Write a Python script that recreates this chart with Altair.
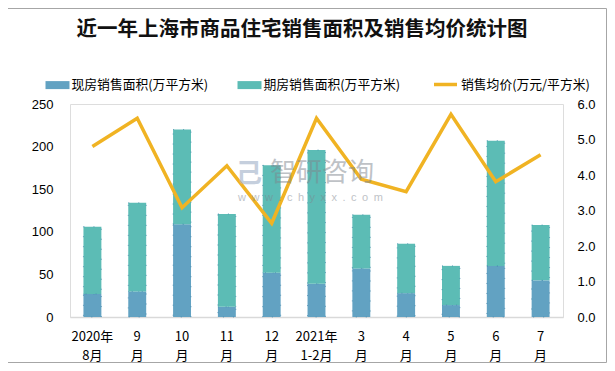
import altair as alt
import pandas as pd

months = ["2020年\n8月", "9\n月", "10\n月", "11\n月", "12\n月", "2021年\n1-2月",
          "3\n月", "4\n月", "5\n月", "6\n月", "7\n月"]
current = [27, 30, 109, 12, 52, 39, 57, 28, 14, 60, 43]
future = [79, 104, 111, 109, 126, 157, 63, 58, 46, 147, 65]
price = [4.80, 5.60, 3.08, 4.26, 2.64, 5.60, 3.88, 3.53, 5.71, 3.81, 4.57]

types = ["现房销售面积(万平方米)", "期房销售面积(万平方米)"]
line_name = "销售均价(万元/平方米)"
title_text = "近一年上海市商品住宅销售面积及销售均价统计图"

bar_colors = ["#62a2c2", "#5cbcb5"]
line_color = "#f0b323"

rows = []
for m, c, f in zip(months, current, future):
    rows.append({"month": m, "type": types[0], "value": c, "ord": 0})
    rows.append({"month": m, "type": types[1], "value": f, "ord": 1})
bar_df = pd.DataFrame(rows)
line_df = pd.DataFrame({"month": months, "price": price, "series": [line_name] * len(months)})

font = "Liberation Sans, Noto Sans CJK SC"
cjk = "Noto Sans CJK SC"

x_enc = alt.X(
    "month:N", sort=months,
    scale=alt.Scale(paddingInner=0.6, paddingOuter=0.3),
    axis=alt.Axis(title=None, labelAngle=0, labelExpr="split(datum.label, '\\n')",
                  ticks=False, domainColor="#d9d9d9", domainWidth=1.5,
                  labelFont=cjk, labelFontSize=13, labelColor="#000000",
                  labelPadding=13, labelLineHeight=19),
)

bars = alt.Chart(bar_df).mark_bar(
    stroke="#3f86ad", strokeWidth=1, strokeDash=[1, 9], strokeOpacity=0.7
).encode(
    x=x_enc,
    y=alt.Y("value:Q", stack="zero",
            scale=alt.Scale(domain=[0, 250], nice=False),
            axis=alt.Axis(title=None, values=[0, 50, 100, 150, 200, 250], grid=False,
                          domain=False, ticks=False, labelPadding=17,
                          labelFont=font, labelFontSize=13, labelColor="#000000")),
    color=alt.Color("type:N", scale=alt.Scale(domain=types, range=bar_colors),
                    legend=alt.Legend(title=None, orient="none", direction="horizontal",
                                      legendX=-20.5, legendY=-27, padding=0,
                                      symbolType="M-1.5,-0.5H1.5V0.5H-1.5Z",
                                      symbolSize=256, symbolStrokeWidth=0,
                                      symbolOpacity=1,
                                      labelFont=cjk, labelFontSize=12.8, labelColor="#000000",
                                      labelOffset=6, columnPadding=29)),
    order=alt.Order("ord:Q"),
)

line = alt.Chart(line_df).mark_line(strokeWidth=3.5).encode(
    x=x_enc,
    y=alt.Y("price:Q", scale=alt.Scale(domain=[0, 6], nice=False),
            axis=alt.Axis(title=None, orient="right", values=[0, 1, 2, 3, 4, 5, 6],
                          format=".1f", grid=False, domain=False, ticks=False,
                          labelPadding=14, labelFont=font, labelFontSize=13,
                          labelColor="#000000")),
    stroke=alt.Stroke("series:N", scale=alt.Scale(domain=[line_name], range=[line_color]),
                      legend=alt.Legend(title=None, orient="none", direction="horizontal",
                                        legendX=362, legendY=-33, padding=0,
                                        symbolType="stroke", symbolSize=529,
                                        symbolStrokeWidth=3.5,
                                        labelFont=cjk, labelFontSize=12.8,
                                        labelColor="#000000", labelOffset=2)),
)

deco_df = pd.DataFrame({"a": [0]})
border = alt.Chart(deco_df).mark_rect(
    fill="#ffffff", fillOpacity=0, stroke="#a6a6a6", strokeWidth=1
).encode(x=alt.value(-62.5), x2=alt.value(536.5), y=alt.value(-95.5), y2=alt.value(258.5))

title = alt.Chart(deco_df).mark_text(
    text=title_text, font=cjk, fontSize=20.5, fontWeight="bold", color="#111111",
    align="center", baseline="middle"
).encode(x=alt.value(232), y=alt.value(-74))

sp = "\u2002"
wm1 = alt.Chart(deco_df).mark_text(
    text="智研咨询", font=cjk, fontSize=26, color="#7f878f", opacity=0.5, align="left",
    baseline="middle"
).encode(x=alt.value(200), y=alt.value(69))
wm2 = alt.Chart(deco_df).mark_text(
    text=sp.join("www.chyxx.com"), font=font, fontSize=11, color="#7f878f",
    opacity=0.5, align="left", baseline="middle"
).encode(x=alt.value(168), y=alt.value(94))
wm3 = alt.Chart(deco_df).mark_text(
    text="己", font=cjk, fontSize=26, fontWeight="bold", color="#9fb0c8", opacity=0.6,
    align="left", baseline="middle"
).encode(x=alt.value(166), y=alt.value(70))

chart = alt.layer(border, title, bars, line, wm3, wm1, wm2).resolve_scale(
    y="independent"
).properties(
    width=493, height=213,
    autosize=alt.AutoSizeParams(type="none"),
    padding={"left": 62, "top": 96, "right": 44, "bottom": 46},
).configure_view(strokeWidth=0).configure(background="#ffffff")

chart.save("out.html", embed_options={"renderer": "svg", "actions": False})
